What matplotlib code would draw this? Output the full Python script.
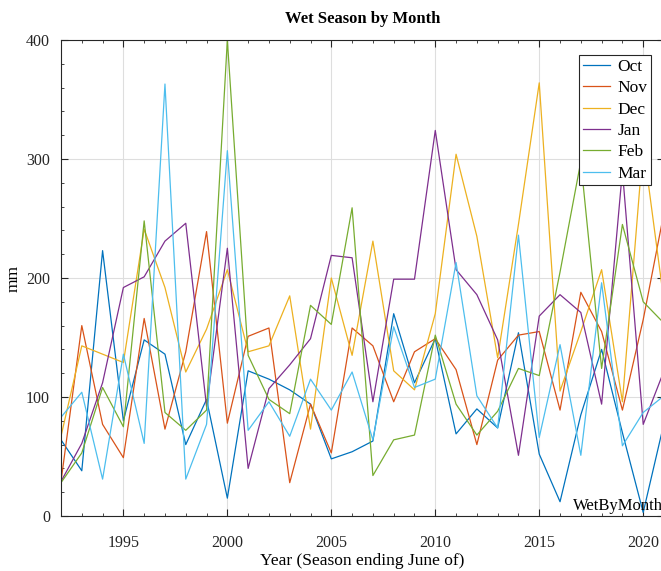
import matplotlib.pyplot as plt
from matplotlib.ticker import MultipleLocator

plt.rcParams['font.family'] = ['Liberation Serif', 'DejaVu Serif']

# season ending June of ...
years = list(range(1992, 2022))

# monthly rainfall, mm
oct_mm = [64, 38, 223, 80, 148, 136, 60, 98, 15, 122, 115, 106, 94, 48, 54,
          63, 170, 112, 149, 69, 90, 74, 154, 52, 12, 85, 140, 70, 3, 78]
nov_mm = [29, 160, 77, 49, 166, 73, 138, 239, 78, 151, 158, 28, 94, 53, 158,
          143, 96, 138, 149, 123, 60, 131, 152, 155, 89, 188, 155, 89, 165, 255]
dec_mm = [67, 143, 136, 129, 241, 192, 121, 157, 207, 138, 143, 185, 73, 200, 135,
          231, 122, 106, 170, 304, 235, 133, 245, 364, 105, 155, 207, 96, 312, 180]
jan_mm = [29, 61, 112, 192, 201, 231, 246, 92, 225, 40, 107, 127, 149, 219, 217,
          96, 199, 199, 324, 207, 186, 148, 51, 168, 186, 171, 94, 290, 77, 122]
feb_mm = [28, 53, 108, 75, 248, 87, 72, 89, 400, 135, 98, 86, 177, 161, 259,
          34, 64, 68, 152, 94, 68, 88, 124, 118, 205, 298, 124, 245, 180, 162]
mar_mm = [83, 104, 31, 136, 61, 363, 31, 77, 307, 72, 96, 67, 115, 89, 121,
          64, 159, 108, 115, 213, 101, 74, 236, 66, 144, 51, 196, 59, 87, 101]

months = ["Oct", "Nov", "Dec", "Jan", "Feb", "Mar"]
series = [oct_mm, nov_mm, dec_mm, jan_mm, feb_mm, mar_mm]
# matlab default line colours
colors = [(0, 0.447, 0.741), (0.85, 0.325, 0.098), (0.929, 0.694, 0.125),
          (0.494, 0.184, 0.556), (0.466, 0.674, 0.188), (0.301, 0.745, 0.933)]

fig = plt.figure(figsize=(6.61, 5.71), dpi=100)
ax = fig.add_axes([61 / 661, 55 / 571, 603 / 661, 476 / 571])

for name, vals, c in zip(months, series, colors):
    ax.plot(years, vals, color=c, lw=0.9, label=name)

ax.set_xlim(1992, 2021)
ax.set_ylim(0, 400)
ax.xaxis.set_major_locator(MultipleLocator(5))
ax.xaxis.set_minor_locator(MultipleLocator(1))
ax.yaxis.set_major_locator(MultipleLocator(100))
ax.yaxis.set_minor_locator(MultipleLocator(20))
ax.tick_params(which='both', direction='in', top=True, right=True,
               colors='#262626', labelcolor='#262626', labelsize=11.5)
ax.tick_params(which='major', length=5, width=0.8)
ax.tick_params(which='minor', length=2.5, width=0.6)
ax.tick_params(axis='x', pad=14)
ax.tick_params(axis='y', pad=8)
ax.grid(True, which='major', color='#dedede', lw=0.8)
ax.set_axisbelow(True)
for sp in ax.spines.values():
    sp.set_color('#262626')
    sp.set_linewidth(0.8)

ax.set_title("Wet Season by Month", fontsize=12, fontweight='bold', pad=12)
ax.set_xlabel("Year (Season ending June of)", fontsize=12.5, labelpad=1)
ax.set_ylabel("mm", fontsize=12.5, labelpad=3)

ax.text(2016.6, 8, "WetByMonth", fontsize=12, va='center', ha='left', clip_on=False)

leg = ax.legend(loc='upper right', bbox_to_anchor=(0.978, 0.968), fontsize=12.5,
                fancybox=False, framealpha=1, edgecolor='#262626',
                handlelength=1.6, handletextpad=0.4, borderpad=0.2,
                labelspacing=0.3, borderaxespad=0)
leg.get_frame().set_linewidth(0.8)

fig.savefig("out.png", dpi=100)
